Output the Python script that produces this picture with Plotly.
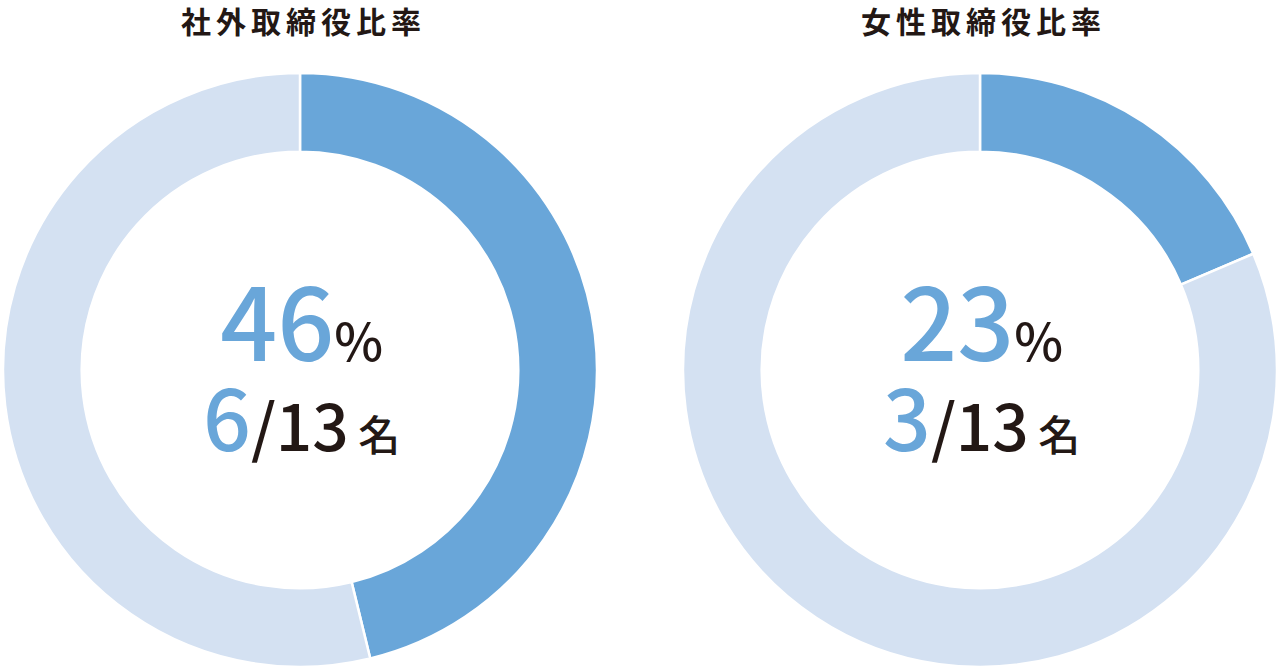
import plotly.graph_objects as go

# Chart data
titles = ["社外取締役比率", "女性取締役比率"]
rates = ["46", "23"]
counts = ["6", "3"]
total = "13"
# arc shares as drawn in the picture (highlighted part, rest)
arc_shares = [[46.2, 53.8], [18.6, 81.4]]

BLUE = "#69a6d9"
LIGHT = "#d4e1f2"
INK = "#231815"
FONT = "Noto Sans CJK JP"

W, H = 1280, 670
centers_x = [300, 980]
cy = 370
r_out = 297

fig = go.Figure()

for i in range(2):
    cx = centers_x[i]
    fig.add_trace(go.Pie(
        values=arc_shares[i],
        sort=False,
        direction="clockwise",
        rotation=0,
        hole=0.735,
        marker=dict(colors=[BLUE, LIGHT], line=dict(color="white", width=2.5)),
        textinfo="none",
        hoverinfo="skip",
        showlegend=False,
        domain=dict(
            x=[(cx - r_out) / W, (cx + r_out) / W],
            y=[(H - cy - r_out) / H, (H - cy + r_out) / H],
        ),
    ))

    # title above each donut
    fig.add_annotation(
        x=(cx + 3) / W, y=(H - 20) / H, xref="paper", yref="paper",
        text=f"<span style='letter-spacing:5px'><b>{titles[i]}</b></span>",
        showarrow=False,
        font=dict(family=FONT, size=30, color=INK),
        xanchor="center", yanchor="middle",
    )

    # centre label: percentage on top, head count below
    # (base font size sets the line spacing between the two rows)
    fig.add_annotation(
        x=(cx + 1) / W, y=(H - 477) / H, xref="paper", yref="paper",
        text=(f"<span style='color:{BLUE};font-size:100px'>{rates[i]}</span>"
              f"<span style='font-size:52px'>%</span><br>"
              f"<span style='color:{BLUE};font-size:84px'>{counts[i]}</span>"
              f"<span style='font-size:64px'>/{total}</span>"
              f"<span style='font-size:42px'> 名</span>"),
        showarrow=False, align="center",
        font=dict(family=FONT, size=69, color=INK, weight=500),
        xanchor="center", yanchor="bottom",
    )

fig.update_layout(
    width=W, height=H,
    margin=dict(l=0, r=0, t=0, b=0),
    paper_bgcolor="white",
    plot_bgcolor="white",
)

# drop the browser's default body margin so the figure sits at the corner
fig.write_html(
    "out.html",
    config={"displayModeBar": False},
    post_script="document.body.style.margin='0';",
)
